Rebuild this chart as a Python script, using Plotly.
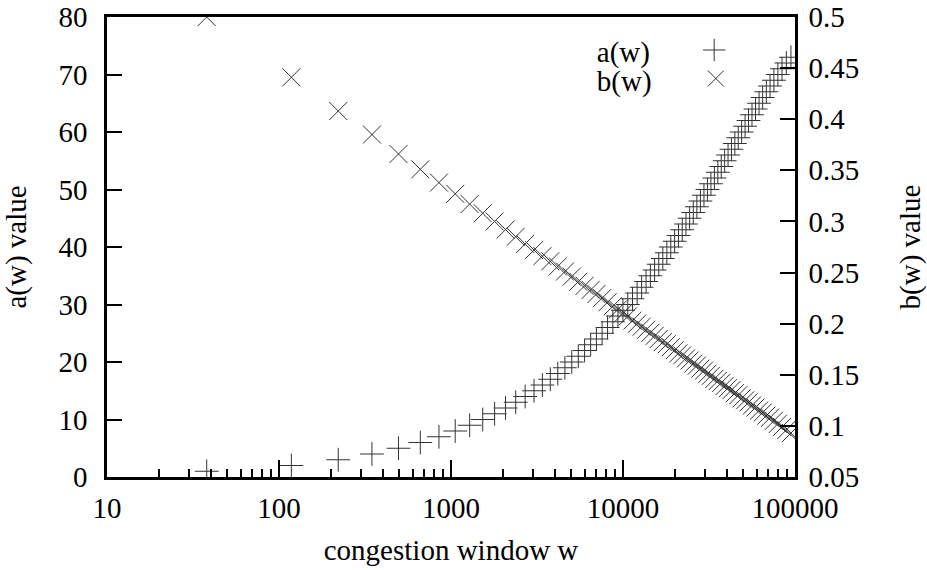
import plotly.graph_objects as go

# HighSpeed TCP table: congestion window w, increase a(w), decrease b(w)
w = [38, 118, 221, 347, 495, 663, 851, 1058, 1284, 1529, 1793, 2076, 2378, 2699,
     3039, 3399, 3778, 4177, 4596, 5036, 5497, 5979, 6483, 7009, 7558, 8130, 8726,
     9346, 9991, 10661, 11358, 12082, 12834, 13614, 14424, 15265, 16137, 17042,
     17981, 18955, 19965, 21013, 22101, 23230, 24402, 25618, 26881, 28193, 29557,
     30975, 32450, 33986, 35586, 37253, 38992, 40808, 42707, 44694, 46776, 48961,
     51258, 53677, 56230, 58932, 61799, 64851, 68113, 71617, 75401, 79517, 84035,
     89053, 94717]
a_w = list(range(1, 74))
b_w = [0.500, 0.441, 0.408, 0.385, 0.366, 0.351, 0.338, 0.327, 0.317, 0.308, 0.300,
       0.292, 0.285, 0.278, 0.272, 0.266, 0.261, 0.256, 0.251, 0.246, 0.241, 0.237,
       0.233, 0.229, 0.225, 0.221, 0.217, 0.214, 0.210, 0.207, 0.203, 0.200, 0.197,
       0.194, 0.191, 0.188, 0.185, 0.182, 0.180, 0.177, 0.174, 0.171, 0.169, 0.166,
       0.164, 0.161, 0.159, 0.156, 0.154, 0.151, 0.149, 0.146, 0.144, 0.142, 0.139,
       0.137, 0.135, 0.132, 0.130, 0.127, 0.125, 0.123, 0.120, 0.118, 0.115, 0.113,
       0.110, 0.108, 0.105, 0.102, 0.099, 0.096, 0.093]

x_major = [10, 100, 1000, 10000, 100000]
x_major_text = ["10", "100", "1000", "10000", "100000"]
x_minor = [m * d for d in [10, 100, 1000, 10000] for m in range(2, 10)]
series_names = ["a(w)", "b(w)"]

FONT = "Liberation Serif"
MK = "#333333"
FS = 29
PAD = "\u00a0" * 5

fig = go.Figure()
fig.add_trace(go.Scatter(
    x=w, y=a_w, mode="markers", name=" ", legend="legend",
    marker=dict(symbol="cross-thin", size=17, color=MK,
                line=dict(width=1.0, color=MK)),
))
fig.add_trace(go.Scatter(
    x=w, y=b_w, mode="markers", name=" ", yaxis="y2", legend="legend2",
    marker=dict(symbol="x-thin", size=18, color=MK,
                line=dict(width=1.0, color=MK)),
))

leg_common = dict(xanchor="left", yanchor="middle", bgcolor="rgba(0,0,0,0)",
                  font=dict(size=FS, family=FONT), itemwidth=30)

fig.update_layout(
    width=927, height=570,
    margin=dict(l=107, r=132, t=17, b=93, autoexpand=False),
    plot_bgcolor="white", paper_bgcolor="white",
    font=dict(family=FONT, size=FS, color="black"),
    showlegend=True,
    legend=dict(x=0.709, y=0.928,
                title=dict(text=series_names[0] + PAD, side="left",
                           font=dict(size=FS, family=FONT)),
                **leg_common),
    legend2=dict(x=0.709, y=0.866,
                 title=dict(text=series_names[1] + PAD, side="left",
                            font=dict(size=FS, family=FONT)),
                 **leg_common),
    xaxis=dict(
        type="log", range=[1, 5], automargin=False,
        tickmode="array", tickvals=x_major, ticktext=x_major_text,
        tickfont=dict(size=FS, family=FONT),
        ticks="inside", ticklen=17, tickwidth=2, tickcolor="black",
        minor=dict(ticks="inside", ticklen=8, tickwidth=2, tickcolor="black",
                   tickmode="array", tickvals=x_minor, showgrid=False),
        showline=True, linewidth=2.5, linecolor="black", mirror=True,
        showgrid=False, zeroline=False,
        ticklabelstandoff=3,
        title=dict(text="congestion window w", font=dict(size=FS, family=FONT),
                   standoff=18),
    ),
    yaxis=dict(
        range=[0, 80], dtick=10, automargin=False,
        tickfont=dict(size=FS, family=FONT),
        ticks="inside", ticklen=15, tickwidth=2, tickcolor="black",
        showline=True, linewidth=2.5, linecolor="black", mirror=False,
        showgrid=False, zeroline=False,
        ticklabelstandoff=11,
        title=dict(text="a(w) value", font=dict(size=FS, family=FONT), standoff=24),
    ),
    yaxis2=dict(
        range=[0.05, 0.5], dtick=0.05, tick0=0.05, automargin=False,
        overlaying="y", side="right",
        tickfont=dict(size=FS, family=FONT),
        ticks="inside", ticklen=15, tickwidth=2, tickcolor="black",
        showline=True, linewidth=2.5, linecolor="black",
        showgrid=False, zeroline=False,
        ticklabelstandoff=5,
        title=dict(text="b(w) value", font=dict(size=FS, family=FONT), standoff=46),
    ),
)

fig.write_html("out.html")
